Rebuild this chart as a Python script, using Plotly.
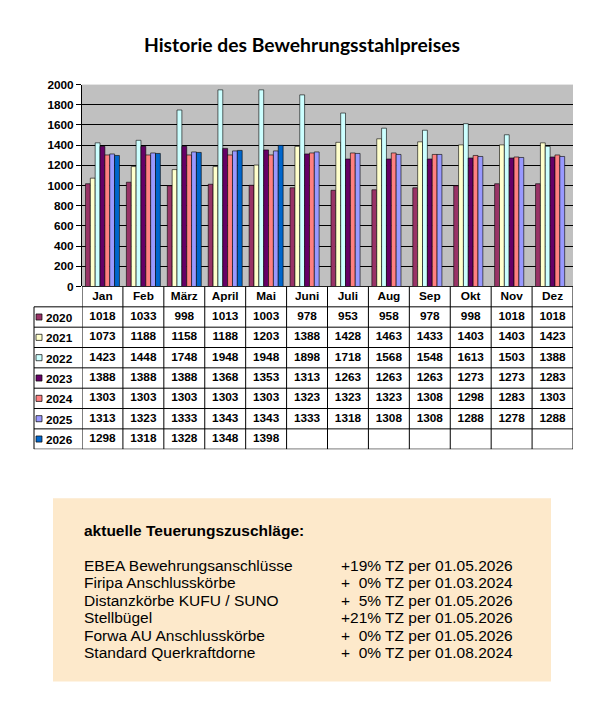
import plotly.graph_objects as go

# ---------------- data ----------------
months = ["Jan", "Feb", "März", "April", "Mai", "Juni", "Juli", "Aug", "Sep", "Okt", "Nov", "Dez"]
years = ["2020", "2021", "2022", "2023", "2024", "2025", "2026"]
p2020 = [1018, 1033, 998, 1013, 1003, 978, 953, 958, 978, 998, 1018, 1018]
p2021 = [1073, 1188, 1158, 1188, 1203, 1388, 1428, 1463, 1433, 1403, 1403, 1423]
p2022 = [1423, 1448, 1748, 1948, 1948, 1898, 1718, 1568, 1548, 1613, 1503, 1388]
p2023 = [1388, 1388, 1388, 1368, 1353, 1313, 1263, 1263, 1263, 1273, 1273, 1283]
p2024 = [1303, 1303, 1303, 1303, 1303, 1323, 1323, 1323, 1308, 1298, 1283, 1303]
p2025 = [1313, 1323, 1333, 1343, 1343, 1333, 1318, 1308, 1308, 1288, 1278, 1288]
p2026 = [1298, 1318, 1328, 1348, 1398]
series = [p2020, p2021, p2022, p2023, p2024, p2025, p2026]
colors = ["#993366", "#FFFFCC", "#CCFFFF", "#660066", "#FF8080", "#9999FF", "#0066CC"]

title = "Historie des Bewehrungsstahlpreises"
box_heading = "aktuelle Teuerungszuschläge:"
box_items = ["EBEA Bewehrungsanschlüsse", "Firipa Anschlusskörbe", "Distanzkörbe KUFU / SUNO",
             "Stellbügel", "Forwa AU Anschlusskörbe", "Standard Querkraftdorne"]
box_rates = ["+19% TZ per 01.05.2026", "+\u00a0 0% TZ per 01.03.2024", "+\u00a0 5% TZ per 01.05.2026",
             "+21% TZ per 01.05.2026", "+\u00a0 0% TZ per 01.05.2026", "+\u00a0 0% TZ per 01.08.2024"]

# ---------------- geometry helpers (screen pixel -> paper) ----------------
W, H = 613, 705
OX, OY = 8, 8   # page body margin
def px(x):
    return (x - OX) / W
def py(y):
    return 1 - (y - OY) / H

FONT = "Liberation Sans, Arial, sans-serif"
NUMSIZE = 11.8

fig = go.Figure()

# bars
for yr, vals, col in zip(years, series, colors):
    full = list(vals) + [None] * (len(months) - len(vals))
    fig.add_trace(go.Bar(x=months, y=full, name=yr, marker=dict(color=col, line=dict(color="#000000", width=0.6)),
                         xaxis="x", yaxis="y", showlegend=False, hoverinfo="skip"))

# table text: header row
fig.add_trace(go.Scatter(x=months, y=[0] * len(months), mode="text", text=months,
                         textfont=dict(family=FONT, size=NUMSIZE, color="#000000"),
                         texttemplate="<b>%{text}</b>", xaxis="x", yaxis="y2",
                         showlegend=False, hoverinfo="skip"))
# table text: value rows
for i, vals in enumerate(series):
    fig.add_trace(go.Scatter(x=months[:len(vals)], y=[i + 1] * len(vals), mode="text",
                             text=[str(v) for v in vals],
                             textfont=dict(family=FONT, size=NUMSIZE, color="#000000"),
                             texttemplate="<b>%{text}</b>", xaxis="x", yaxis="y2",
                             showlegend=False, hoverinfo="skip"))

shapes = []
n = len(months)
nrows = len(years) + 1
# white table background (covers the subplot's grey plot background)
shapes.append(dict(type="rect", xref="x", yref="y2", x0=-0.5, x1=n - 0.5, y0=-0.5, y1=nrows - 0.5,
                   fillcolor="#FFFFFF", line=dict(width=0), layer="below"))
line = dict(color="#000000", width=1)
# horizontal table lines
for k in range(nrows + 1):
    shapes.append(dict(type="line", xref="x", yref="y2", x0=-0.5, x1=n - 0.5, y0=k - 0.5, y1=k - 0.5, line=line))
    if k >= 1:
        shapes.append(dict(type="line", xref="paper", yref="y2", x0=px(34), x1=px(82), y0=k - 0.5, y1=k - 0.5, line=line))
# vertical table lines
for j in range(n + 1):
    shapes.append(dict(type="line", xref="x", yref="y2", x0=j - 0.5, x1=j - 0.5, y0=-0.5, y1=nrows - 0.5, line=line))
shapes.append(dict(type="line", xref="paper", yref="y2", x0=px(34), x1=px(34), y0=0.5, y1=nrows - 0.5, line=line))

annotations = []
# legend keys
for i, (yr, col) in enumerate(zip(years, colors)):
    shapes.append(dict(type="rect", xref="paper", yref="y2", x0=px(36), x1=px(42), y0=i + 1 - 0.15, y1=i + 1 + 0.15,
                       fillcolor=col, line=dict(color="#000000", width=0.7)))
    annotations.append(dict(text="<b>" + yr + "</b>", xref="paper", yref="y2", x=px(44), y=i + 1.05,
                            xanchor="left", yanchor="middle", showarrow=False,
                            font=dict(family=FONT, size=NUMSIZE, color="#000000")))

# title
annotations.append(dict(text="<b>" + title + "</b>", xref="paper", yref="paper", x=px(302), y=py(38),
                        xanchor="center", yanchor="middle", showarrow=False,
                        font=dict(family="Lato, Open Sans, sans-serif", size=19.3, color="#000000")))

# info box
shapes.append(dict(type="rect", xref="paper", yref="paper", x0=px(53), x1=px(551), y0=py(688), y1=py(501),
                   fillcolor="#FDE9CB", line=dict(width=0), layer="below"))
annotations.append(dict(text="<b>" + box_heading + "</b>", xref="paper", yref="paper", x=px(82), y=py(534),
                        xanchor="left", yanchor="middle", showarrow=False,
                        font=dict(family=FONT, size=15.5, color="#000000")))
for k, (item, rate) in enumerate(zip(box_items, box_rates)):
    yc = 569.5 + k * 17.8
    annotations.append(dict(text=item, xref="paper", yref="paper", x=px(82), y=py(yc),
                            xanchor="left", yanchor="middle", showarrow=False,
                            font=dict(family=FONT, size=15.5, color="#000000")))
    annotations.append(dict(text=rate, xref="paper", yref="paper", x=px(339), y=py(yc),
                            xanchor="left", yanchor="middle", showarrow=False,
                            font=dict(family=FONT, size=15.5, color="#000000")))

fig.update_layout(
    width=W, height=H,
    margin=dict(l=0, r=0, t=0, b=0),
    paper_bgcolor="#FFFFFF",
    plot_bgcolor="#C0C0C0",
    barmode="group", bargap=0.17, bargroupgap=0,
    showlegend=False,
    xaxis=dict(domain=[px(82), px(573)], type="category", categoryorder="array", categoryarray=months,
               range=[-0.5, n - 0.5], showticklabels=False, showgrid=False, zeroline=False,
               showline=False, ticks="", anchor="y", fixedrange=True),
    yaxis=dict(domain=[py(285), py(79)], range=[0, 2000], dtick=200, showgrid=True,
               gridcolor="#000000", gridwidth=1, zeroline=True, zerolinecolor="#000000",
               showline=True, linecolor="#000000", linewidth=1, ticks="outside", ticklen=5,
               tickcolor="#000000", tickfont=dict(family=FONT, size=NUMSIZE, color="#000000"),
               tickprefix="<b>", ticksuffix="</b>", anchor="x", fixedrange=True),
    yaxis2=dict(domain=[py(451), py(285)], range=[nrows - 0.5, -0.5], showticklabels=False,
                showgrid=False, zeroline=False, showline=False, ticks="", anchor="x", fixedrange=True),
    shapes=shapes,
    annotations=annotations,
)

fig.write_html("out.html")
